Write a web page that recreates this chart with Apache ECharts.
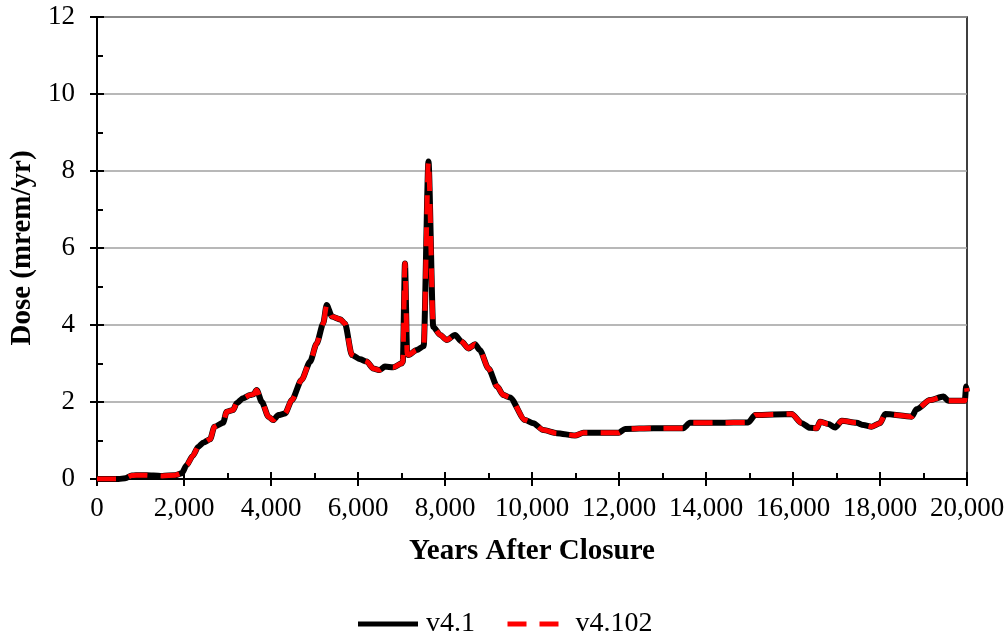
<!DOCTYPE html>
<html>
<head>
<meta charset="utf-8">
<script src="https://cdn.jsdelivr.net/npm/echarts@6/dist/echarts.min.js"></script>
<style>
  html, body { margin: 0; padding: 0; background: #fff; }
  #main { width: 1008px; height: 633px; }
</style>
</head>
<body>
<div id="main"></div>
<script>
const dom = document.getElementById('main');
const myChart = echarts.init(dom);

// years after closure
const years = [0, 500, 650, 800, 1000, 1300, 1500, 1800, 1950, 2060, 2200, 2330, 2450, 2600, 2700, 2900, 2980, 3130, 3210, 3360, 3520, 3600, 3670, 3790, 3940, 4050, 4170, 4320, 4480, 4700, 4900, 5050, 5200, 5280, 5400, 5590, 5700, 5860, 6050, 6200, 6350, 6500, 6620, 6810, 7000, 7030, 7080, 7130, 7160, 7350, 7510, 7620, 7730, 7890, 8040, 8230, 8380, 8540, 8690, 8800, 9000, 9200, 9340, 9490, 9840, 10030, 10260, 10570, 10990, 11180, 11990, 12140, 12790, 13480, 13630, 14300, 14970, 15130, 15970, 16200, 16390, 16550, 16620, 16810, 16970, 17120, 17460, 17620, 17810, 18000, 18120, 18730, 18840, 19150, 19460, 19570, 19950, 19980, 20000];

// dose (mrem/yr)
const doseV41 = [0, 0, 0.02, 0.09, 0.1, 0.09, 0.08, 0.1, 0.15, 0.36, 0.6, 0.84, 0.95, 1.03, 1.36, 1.46, 1.75, 1.79, 1.97, 2.1, 2.18, 2.2, 2.31, 2.0, 1.62, 1.53, 1.66, 1.7, 2.05, 2.57, 3.05, 3.52, 4.04, 4.52, 4.22, 4.15, 4.04, 3.22, 3.11, 3.05, 2.87, 2.83, 2.92, 2.9, 3.0, 3.05, 5.6, 3.25, 3.22, 3.35, 3.45, 8.25, 3.95, 3.74, 3.61, 3.74, 3.57, 3.39, 3.5, 3.35, 2.87, 2.4, 2.18, 2.12, 1.53, 1.45, 1.27, 1.19, 1.13, 1.2, 1.2, 1.3, 1.32, 1.32, 1.46, 1.46, 1.47, 1.66, 1.69, 1.45, 1.33, 1.32, 1.49, 1.43, 1.34, 1.51, 1.46, 1.4, 1.36, 1.45, 1.69, 1.62, 1.81, 2.05, 2.14, 2.03, 2.03, 2.4, 2.27];

const doseV4102 = [0, 0, 0.02, 0.09, 0.1, 0.09, 0.08, 0.1, 0.15, 0.36, 0.6, 0.84, 0.95, 1.03, 1.36, 1.46, 1.75, 1.79, 1.97, 2.1, 2.18, 2.2, 2.31, 2.0, 1.62, 1.53, 1.66, 1.7, 2.05, 2.57, 3.05, 3.52, 4.04, 4.52, 4.22, 4.15, 4.04, 3.22, 3.11, 3.05, 2.87, 2.83, 2.92, 2.9, 3.0, 3.05, 5.6, 3.25, 3.22, 3.35, 3.45, 8.25, 3.95, 3.74, 3.61, 3.74, 3.57, 3.39, 3.5, 3.35, 2.87, 2.4, 2.18, 2.12, 1.53, 1.45, 1.27, 1.19, 1.13, 1.2, 1.2, 1.3, 1.32, 1.32, 1.46, 1.46, 1.47, 1.66, 1.69, 1.45, 1.33, 1.32, 1.49, 1.43, 1.34, 1.51, 1.46, 1.4, 1.36, 1.45, 1.69, 1.62, 1.81, 2.05, 2.14, 2.03, 2.03, 2.4, 2.27];

const seriesNames = ['v4.1', 'v4.102'];

const font = 'Liberation Serif';
const pairs = (ys) => years.map((x, i) => [x, ys[i]]);

const option = {
  animation: false,
  textStyle: { fontFamily: font, color: '#000' },
  grid: {
    left: 97, right: 41, top: 17, bottom: 154,
    show: true, borderColor: '#000', borderWidth: 1.5, backgroundColor: 'transparent'
  },
  legend: {
    top: 605,
    left: 'center',
    itemWidth: 60,
    itemHeight: 14,
    itemGap: 30,
    itemStyle: { opacity: 0 },
    lineStyle: { width: 5 },
    textStyle: { fontFamily: font, fontSize: 28, color: '#000', padding: [0, 0, 0, 3] },
    data: seriesNames
  },
  xAxis: [{
    type: 'value',
    min: 0, max: 20000, interval: 2000,
    name: 'Years After Closure',
    nameLocation: 'middle',
    nameGap: 58,
    nameTextStyle: { fontFamily: font, fontSize: 29, fontWeight: 'bold', color: '#000' },
    axisLine: { lineStyle: { color: '#000', width: 2 } },
    axisTick: { inside: true, length: 7, lineStyle: { color: '#000', width: 2 } },
    minorTick: { show: true, splitNumber: 2, length: 6, lineStyle: { color: '#000', width: 2 } },
    axisLabel: { fontFamily: font, fontSize: 27, color: '#000', margin: 16 },
    splitLine: { show: false }
  }, {
    type: 'value',
    position: 'bottom',
    min: 0, max: 20000, interval: 2000,
    axisLine: { show: false },
    axisTick: { length: 7, lineStyle: { color: '#000', width: 2 } },
    axisLabel: { show: false },
    splitLine: { show: false }
  }],
  yAxis: [{
    type: 'value',
    min: 0, max: 12, interval: 2,
    name: 'Dose (mrem/yr)',
    nameLocation: 'middle',
    nameGap: 57,
    nameTextStyle: { fontFamily: font, fontSize: 29, fontWeight: 'bold', color: '#000' },
    axisLine: { show: true, lineStyle: { color: '#000', width: 2 } },
    axisTick: { show: true, inside: true, length: 7, lineStyle: { color: '#000', width: 2 } },
    minorTick: { show: true, splitNumber: 2, length: 6, lineStyle: { color: '#000', width: 2 } },
    axisLabel: { fontFamily: font, fontSize: 27, color: '#000', margin: 22 },
    splitLine: { lineStyle: { color: '#a0a0a0', width: 1.5 } }
  }, {
    type: 'value',
    position: 'left',
    min: 0, max: 12, interval: 2,
    axisLine: { show: false },
    axisTick: { show: true, length: 7, lineStyle: { color: '#000', width: 2 } },
    axisLabel: { show: false },
    splitLine: { show: false }
  }],
  series: [{
    name: seriesNames[0],
    type: 'line',
    data: pairs(doseV41),
    symbol: 'none',
    smooth: 0.25,
    smoothMonotone: 'x',
    lineStyle: { color: '#000', width: 6 },
    itemStyle: { color: '#000' }
  }, {
    name: seriesNames[1],
    type: 'line',
    data: pairs(doseV4102),
    symbol: 'none',
    smooth: 0.25,
    smoothMonotone: 'x',
    lineStyle: { color: '#ff0000', width: 5, type: [19, 13] },
    itemStyle: { color: '#ff0000' }
  }]
};

myChart.setOption(option);

window.addEventListener('resize', myChart.resize);
</script>
</body>
</html>
